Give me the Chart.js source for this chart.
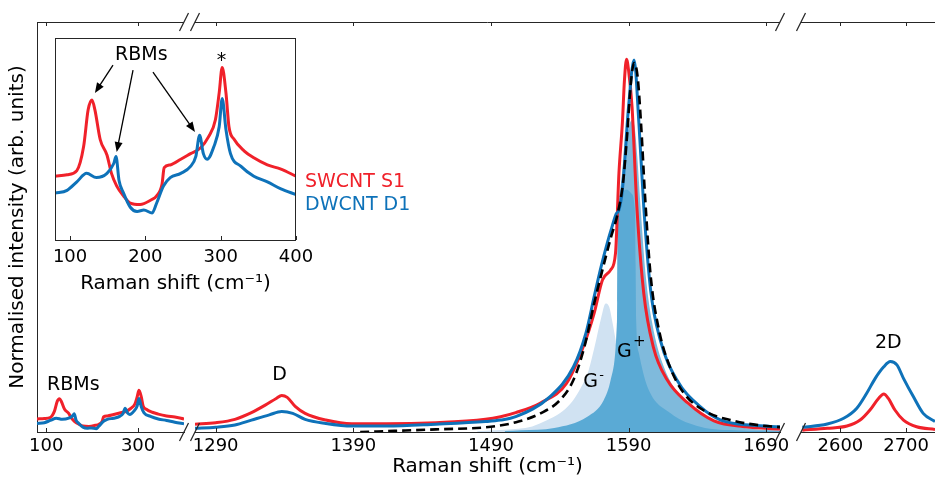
<!DOCTYPE html>
<html>
<head>
<meta charset="utf-8">
<script src="https://cdn.jsdelivr.net/npm/chart.js@4.4.1/dist/chart.umd.min.js"></script>
<style>
  html, body { margin: 0; padding: 0; background: #fff; }
  #wrap { position: relative; width: 935px; height: 482px; overflow: hidden; background: #fff; }
  #main { position: absolute; left: 0; top: 0; }
  #inset { position: absolute; left: 40px; top: 28px; }
</style>
</head>
<body>
<div id="wrap">
  <canvas id="main" width="935" height="482"></canvas>
  <canvas id="inset" width="280" height="275"></canvas>
</div>
<script>
// ---- data (normalised intensity) ----
// RBM window (used both in the main plot and in the inset)
const rbmShiftS1 = [80, 96, 109, 118, 124, 129, 133, 140, 149, 155, 162, 171, 180, 193, 207, 215, 222, 225, 233, 247, 260, 273, 284, 293, 298, 302, 307, 311, 318, 331, 344, 362, 380, 400];
const rbmS1 = [0.035, 0.036, 0.039, 0.056, 0.082, 0.089, 0.082, 0.061, 0.050, 0.037, 0.028, 0.021, 0.016, 0.015, 0.018, 0.021, 0.029, 0.041, 0.043, 0.047, 0.051, 0.055, 0.063, 0.075, 0.094, 0.112, 0.094, 0.070, 0.061, 0.053, 0.048, 0.043, 0.040, 0.035];
const rbmShiftD1 = [80, 96, 109, 122, 135, 149, 158, 161, 165, 171, 180, 189, 198, 209, 215, 224, 233, 247, 260, 267, 272, 277, 282, 291, 298, 302, 307, 313, 327, 344, 362, 380, 400];
const rbmD1 = [0.023, 0.025, 0.031, 0.037, 0.034, 0.037, 0.044, 0.049, 0.032, 0.023, 0.013, 0.010, 0.011, 0.009, 0.016, 0.028, 0.034, 0.037, 0.042, 0.049, 0.064, 0.051, 0.047, 0.056, 0.070, 0.090, 0.068, 0.051, 0.042, 0.035, 0.031, 0.026, 0.022];

// D and G window
const midShiftS1 = [1275, 1290, 1304, 1316, 1326, 1334, 1338, 1342, 1348, 1355, 1370, 1389, 1414, 1450, 1486, 1497, 1508, 1526, 1545, 1557, 1565, 1571, 1577, 1580.5, 1583, 1585.5, 1587, 1588.5, 1590, 1592.5, 1596, 1601, 1608, 1618, 1633, 1652, 1675, 1700];
const midS1 = [0.021, 0.025, 0.034, 0.052, 0.072, 0.090, 0.098, 0.093, 0.068, 0.050, 0.032, 0.022, 0.022, 0.025, 0.034, 0.041, 0.052, 0.078, 0.131, 0.228, 0.319, 0.408, 0.435, 0.48, 0.695, 0.83, 0.944, 1.0, 0.97, 0.873, 0.605, 0.373, 0.228, 0.14, 0.078, 0.03, 0.014, 0.008];
const midShiftD1 = [1275, 1290, 1304, 1316, 1329, 1338, 1346, 1355, 1370, 1389, 1414, 1450, 1486, 1497, 1508, 1533, 1550, 1559, 1565, 1570, 1574.5, 1578, 1581, 1583, 1585.5, 1590, 1594, 1597.5, 1601, 1606, 1613, 1625, 1642, 1657, 1680, 1700];
const midD1 = [0.010, 0.013, 0.019, 0.032, 0.046, 0.055, 0.050, 0.034, 0.023, 0.016, 0.016, 0.021, 0.028, 0.032, 0.041, 0.095, 0.175, 0.265, 0.363, 0.443, 0.507, 0.551, 0.585, 0.596, 0.65, 0.873, 0.998, 0.829, 0.605, 0.381, 0.247, 0.14, 0.068, 0.032, 0.018, 0.014];

// fit of the DWCNT G band and its components
const fitShift = [1395, 1420, 1450, 1490, 1510, 1526, 1540, 1550, 1558, 1565, 1571, 1577, 1582, 1586, 1589, 1591.5, 1594, 1596.5, 1599, 1602, 1606, 1612, 1620, 1630, 1645, 1665, 1685, 1700];
const fitSum = [0.0, 0.003, 0.007, 0.014, 0.028, 0.05, 0.085, 0.14, 0.23, 0.345, 0.435, 0.52, 0.585, 0.67, 0.8, 0.93, 0.99, 0.955, 0.83, 0.63, 0.42, 0.275, 0.175, 0.105, 0.057, 0.031, 0.018, 0.013];
const gPlusShift = [1500, 1530, 1555, 1570, 1577, 1580.5, 1581.8, 1582.2, 1583.5, 1585.5, 1588, 1590, 1592.3, 1594.5, 1596.3, 1598.7, 1602.3, 1607.2, 1615.6, 1630, 1642, 1657, 1680, 1700];
const gPlus = [0.004, 0.012, 0.035, 0.08, 0.14, 0.23, 0.35, 0.57, 0.64, 0.70, 0.77, 0.815, 0.837, 0.815, 0.74, 0.605, 0.426, 0.292, 0.175, 0.086, 0.05, 0.024, 0.008, 0.004];
const gCoreShift = [1500, 1512, 1536, 1560, 1572, 1577, 1580.6, 1581.8, 1582.2, 1583.5, 1586, 1589, 1592, 1594.5, 1595.1, 1595.5, 1597.5, 1603.6, 1620.5, 1642, 1670, 1700];
const gCore = [0.003, 0.005, 0.011, 0.041, 0.086, 0.14, 0.229, 0.346, 0.57, 0.62, 0.645, 0.65, 0.64, 0.6, 0.45, 0.3, 0.211, 0.122, 0.05, 0.014, 0.004, 0.002];
const gMinusShift = [1480, 1500, 1520, 1531, 1540, 1548, 1554, 1561, 1566, 1570, 1573.3, 1576, 1578, 1582, 1588, 1600, 1620, 1660];
const gMinus = [0.002, 0.006, 0.015, 0.032, 0.05, 0.077, 0.11, 0.166, 0.24, 0.305, 0.345, 0.335, 0.30, 0.22, 0.13, 0.05, 0.015, 0.004];

// 2D window
const twoDShiftS1 = [2542, 2580, 2610, 2630, 2645, 2658, 2666, 2673, 2683, 2696, 2716, 2744];
const twoDS1 = [0.005, 0.01, 0.016, 0.032, 0.059, 0.090, 0.102, 0.090, 0.059, 0.032, 0.014, 0.007];
const twoDShiftD1 = [2542, 2580, 2605, 2625, 2640, 2653, 2666, 2676, 2686, 2696, 2711, 2726, 2744];
const twoDD1 = [0.0125, 0.0215, 0.037, 0.064, 0.104, 0.144, 0.175, 0.189, 0.18, 0.144, 0.095, 0.05, 0.028];

// tick labels
const ticksRbm = [100, 300];
const ticksMid = [1290, 1390, 1490, 1590, 1690];
const ticks2D = [2600, 2700];
const ticksInset = [100, 200, 300, 400];

const RED = "#f0212a";
const BLUE = "#0e72b9";
const AXIS = "#262626";
const FONT = '"DejaVu Sans", sans-serif';

Chart.defaults.font.family = FONT;
Chart.defaults.color = "#000";

const pts = (xs, ys) => xs.map((x, i) => ({ x, y: ys[i] }));

function spectrum(label, xs, ys, axis, color, order) {
  return {
    label, data: pts(xs, ys), xAxisID: axis, yAxisID: "y",
    borderColor: color, borderWidth: 3, pointRadius: 0, fill: false,
    cubicInterpolationMode: "monotone", order
  };
}

function component(label, xs, ys, color, order) {
  return {
    label, data: pts(xs, ys), xAxisID: "x2", yAxisID: "y",
    borderWidth: 0, backgroundColor: color, pointRadius: 0, fill: "origin",
    cubicInterpolationMode: "monotone", order
  };
}

// one x axis per window of the broken axis, laid side by side
function segment(min, max, weight, ticks, title) {
  return {
    type: "linear", axis: "x", position: "bottom", stack: "raman", stackWeight: weight,
    min, max,
    grid: { display: false, drawTicks: false },
    border: { display: true, color: AXIS, width: 1 },
    ticks: { font: { size: 18 }, color: "#000", padding: 4, maxRotation: 0, autoSkip: false, callback: v => String(v) },
    afterBuildTicks: s => { s.ticks = ticks.map(v => ({ value: v })); },
    title: { display: !!title, text: title || "", font: { size: 20 }, color: "#000", padding: { top: 0, bottom: 3 } },
    afterFit: s => { s.height = 50; s.paddingLeft = 0; s.paddingRight = 0; }
  };
}

function gap(weight) {
  return {
    type: "linear", axis: "x", position: "bottom", stack: "raman", stackWeight: weight,
    min: 0, max: 1,
    grid: { display: false, drawTicks: false }, border: { display: false }, ticks: { display: false },
    afterFit: s => { s.height = 50; s.paddingLeft = 0; s.paddingRight = 0; }
  };
}

function seg(ctx, x0, y0, x1, y1) {
  ctx.beginPath(); ctx.moveTo(x0, y0); ctx.lineTo(x1, y1); ctx.stroke();
}

function label(ctx, text, x, y, size, color, align) {
  ctx.font = `${size}px ${FONT}`;
  ctx.fillStyle = color || "#000";
  ctx.textAlign = align || "left";
  ctx.textBaseline = "alphabetic";
  ctx.fillText(text, x, y);
}

// spines, inward ticks, break marks and text of the main plot
const mainDecor = {
  id: "mainDecor",
  afterDraw(chart) {
    const { ctx, chartArea: { top, bottom } } = chart;
    const y = chart.scales.y;
    const segs = ["x1", "x2", "x3"].map(id => chart.scales[id]);
    ctx.save();
    ctx.strokeStyle = AXIS;
    ctx.lineWidth = 1;
    segs.forEach(s => seg(ctx, s.left, top + 0.5, s.right, top + 0.5));
    segs.forEach(s => s.ticks.forEach(t => {
      const px = Math.round(s.getPixelForValue(t.value)) + 0.5;
      seg(ctx, px, bottom, px, bottom - 4);
      seg(ctx, px, top, px, top + 4);
    }));
    ctx.lineWidth = 1.2;
    [segs[0].right, segs[1].left, segs[1].right, segs[2].left].forEach(x => {
      [top, bottom].forEach(yy => seg(ctx, x - 4.5, yy + 9, x + 4.5, yy - 9));
    });

    const [x1, x2, x3] = segs;
    label(ctx, "RBMs", x1.getPixelForValue(102), y.getPixelForValue(0.113), 19);
    label(ctx, "D", x2.getPixelForValue(1336.4), y.getPixelForValue(0.14), 19, "#000", "center");
    label(ctx, "2D", x3.getPixelForValue(2673), y.getPixelForValue(0.225), 19, "#000", "center");
    const gmx = x2.getPixelForValue(1557), gmy = y.getPixelForValue(0.121);
    label(ctx, "G", gmx, gmy, 19);
    label(ctx, "-", gmx + 16, gmy - 8, 13);
    const gpx = x2.getPixelForValue(1581.6), gpy = y.getPixelForValue(0.201);
    label(ctx, "G", gpx, gpy, 19);
    label(ctx, "+", gpx + 16, gpy - 11, 15);

    label(ctx, "SWCNT S1", 305, 187, 19, RED);
    label(ctx, "DWCNT D1", 305, 210, 19, BLUE);
    ctx.restore();
  }
};

new Chart(document.getElementById("main"), {
  type: "line",
  data: {
    datasets: [
      { ...spectrum("fit", fitShift, fitSum, "x2", "#000", 0), borderWidth: 2.6, borderDash: [9, 5] },
      spectrum("DWCNT D1", rbmShiftD1, rbmD1, "x1", BLUE, 1),
      spectrum("DWCNT D1", midShiftD1, midD1, "x2", BLUE, 1),
      spectrum("DWCNT D1", twoDShiftD1, twoDD1, "x3", BLUE, 1),
      spectrum("SWCNT S1", rbmShiftS1, rbmS1, "x1", RED, 2),
      spectrum("SWCNT S1", midShiftS1, midS1, "x2", RED, 2),
      spectrum("SWCNT S1", twoDShiftS1, twoDS1, "x3", RED, 2),
      component("G+ core", gCoreShift, gCore, "#5aaad5", 3),
      component("G-", gMinusShift, gMinus, "#d0e2f2", 4),
      component("G+", gPlusShift, gPlus, "#7fbadc", 5)
    ]
  },
  options: {
    responsive: false,
    animation: false,
    events: [],
    layout: { padding: { top: 22, right: 0, bottom: 0, left: 0 } },
    plugins: { legend: { display: false }, tooltip: { enabled: false } },
    scales: {
      x1: segment(80, 400, 147, ticksRbm),
      g1: gap(11),
      x2: segment(1275, 1700, 585, ticksMid, "Raman shift (cm\u207B\u00B9)"),
      g2: gap(21),
      x3: segment(2540, 2744, 134, ticks2D),
      y: {
        type: "linear", position: "left", min: 0, max: 1.1,
        grid: { display: false, drawTicks: false },
        ticks: { display: false },
        border: { display: true, color: AXIS, width: 1 },
        title: { display: true, text: "Normalised intensity (arb. units)", font: { size: 20 }, color: "#000", padding: { top: 6, bottom: 0 } },
        afterFit: s => { s.width = 37; }
      }
    }
  },
  plugins: [mainDecor]
});

// ---- inset: RBM region enlarged ----
function arrow(ctx, x0, y0, x1, y1) {
  const a = Math.atan2(y1 - y0, x1 - x0), L = 10, W = 4;
  seg(ctx, x0, y0, x1 - 0.8 * L * Math.cos(a), y1 - 0.8 * L * Math.sin(a));
  ctx.beginPath();
  ctx.moveTo(x1, y1);
  ctx.lineTo(x1 - L * Math.cos(a) + W * Math.sin(a), y1 - L * Math.sin(a) - W * Math.cos(a));
  ctx.lineTo(x1 - L * Math.cos(a) - W * Math.sin(a), y1 - L * Math.sin(a) + W * Math.cos(a));
  ctx.closePath();
  ctx.fill();
}

const insetDecor = {
  id: "insetDecor",
  afterDraw(chart) {
    const { ctx, chartArea: { left, top, right, bottom } } = chart;
    const { x, y } = chart.scales;
    ctx.save();
    ctx.strokeStyle = AXIS;
    ctx.fillStyle = "#000";
    ctx.lineWidth = 1;
    ctx.strokeRect(left + 0.5, top + 0.5, right - left - 1, bottom - top);
    x.ticks.forEach(t => {
      const px = Math.round(x.getPixelForValue(t.value)) + 0.5;
      seg(ctx, px, bottom, px, bottom - 4);
    });
    ctx.strokeStyle = "#000";
    ctx.lineWidth = 1.3;
    arrow(ctx, x.getPixelForValue(157), y.getPixelForValue(0.1137), x.getPixelForValue(133), y.getPixelForValue(0.094));
    arrow(ctx, x.getPixelForValue(183.6), y.getPixelForValue(0.1102), x.getPixelForValue(161.9), y.getPixelForValue(0.0521));
    arrow(ctx, x.getPixelForValue(210.1), y.getPixelForValue(0.1088), x.getPixelForValue(265.9), y.getPixelForValue(0.0663));
    label(ctx, "RBMs", x.getPixelForValue(159.7), y.getPixelForValue(0.1173), 19);
    label(ctx, "*", x.getPixelForValue(301), y.getPixelForValue(0.1133), 19, "#000", "center");
    ctx.restore();
  }
};

new Chart(document.getElementById("inset"), {
  type: "line",
  data: {
    datasets: [
      { ...spectrum("DWCNT D1", rbmShiftD1, rbmD1, "x", BLUE, 1) },
      { ...spectrum("SWCNT S1", rbmShiftS1, rbmS1, "x", RED, 2) }
    ]
  },
  options: {
    responsive: false,
    animation: false,
    events: [],
    layout: { padding: { top: 10, right: 24, bottom: 0, left: 15 } },
    plugins: { legend: { display: false }, tooltip: { enabled: false } },
    scales: {
      x: {
        type: "linear", position: "bottom", min: 80, max: 400,
        grid: { display: false, drawTicks: false },
        border: { display: false },
        ticks: { font: { size: 18 }, color: "#000", padding: 7, maxRotation: 0, autoSkip: false, callback: v => String(v) },
        afterBuildTicks: s => { s.ticks = ticksInset.map(v => ({ value: v })); },
        title: { display: true, text: "Raman shift (cm\u207B\u00B9)", font: { size: 20 }, color: "#000", padding: { top: 0, bottom: 7 } },
        afterFit: s => { s.height = 63; s.paddingLeft = 0; s.paddingRight = 0; }
      },
      y: { type: "linear", display: false, min: -0.0102, max: 0.1329 }
    }
  },
  plugins: [insetDecor]
});
</script>
</body>
</html>
